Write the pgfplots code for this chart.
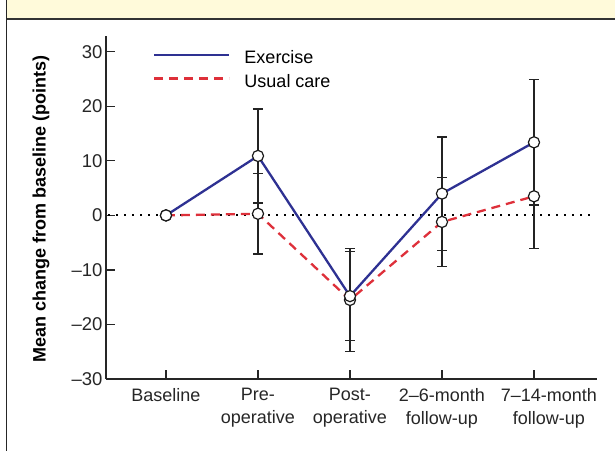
\documentclass[border=0pt]{standalone}
\usepackage{fontspec}
\setmainfont{Liberation Sans}
\usepackage{pgfplots}
\usepackage{pgfplotstable}
\pgfplotsset{compat=1.18}
\definecolor{exblue}{RGB}{46,49,146}
\definecolor{ucred}{RGB}{222,48,58}
\definecolor{hdr}{RGB}{255,250,218}
\definecolor{ebar}{RGB}{35,35,35}
\pgfplotstableread{
x y ep em
0 0 0 0
1 10.9 8.6 8.6
2 -14.8 8.2 8.2
3 4.0 10.4 10.4
4 13.4 11.5 11.5
}\exercise
\pgfplotstableread{
x y ep em
0 0 0 0
1 0.3 7.4 7.4
2 -15.5 9.4 9.4
3 -1.2 8.2 8.2
4 3.5 9.6 9.6
}\usual
\begin{document}
\begin{tikzpicture}
\path[use as bounding box] (0,0) rectangle (615bp,451bp);
\fill[hdr] (6bp,432bp) rectangle (615bp,451bp);
\draw[line width=2bp, black!80] (6bp,432bp) -- (615bp,432bp);
\draw[line width=1.5bp, black!85] (6.5bp,0) -- (6.5bp,451bp);
\begin{axis}[
  at={(106bp,72bp)}, anchor=south west,
  scale only axis, width=491bp, height=343bp,
  xmin=-0.652, xmax=4.685, ymin=-30, ymax=32.9,
  axis lines=left,
  axis line style={line width=1.3bp, black!85, -},
  tick align=inside, major tick length=9bp,
  tick style={line width=1.2bp, black!85},
  xtick={0,1,2,3},
  xticklabels={Baseline, Pre-\\operative, Post-\\operative, 2–6-month\\follow-up},
  extra x ticks={4},
  extra x tick labels={7–14-month\\follow-up},
  extra x tick style={xticklabel style={xshift=15bp}},
  xticklabel style={align=center, font=\fontsize{18bp}{22.5bp}\selectfont, text=black!85, yshift=-6bp},
  ytick={-30,-20,-10,0,10,20,30},
  yticklabels={–30,–20,–10,0,10,20,30},
  yticklabel style={font=\fontsize{18.5bp}{22bp}\selectfont, text=black!85},
  ylabel={Mean change from baseline (points)},
  ylabel style={font=\bfseries\fontsize{18bp}{22bp}\selectfont, at={(axis description cs:-0.1325,0.4956)}, anchor=center},
  clip=false,
  legend style={draw=none, fill=none, inner sep=0pt, at={(axis description cs:0.0957,0.96)}, anchor=north west,
    font=\fontsize{18bp}{22bp}\selectfont, row sep=7bp, nodes={inner sep=1bp},
    /tikz/every odd column/.append style={column sep=13bp}},
  legend cell align=left,
  legend image code/.code={\draw[#1] (0bp,0.33em) -- (75bp,0.33em);},
]
\addplot[forget plot, black, line width=2bp, dash pattern=on 2bp off 6bp] coordinates {(-0.63,0) (4.65,0)};
\addplot[exblue, line width=2.3bp, mark=none,
  error bars/.cd, y dir=both, y explicit,
  error bar style={ebar, line width=1.3bp, solid},
  error mark options={rotate=90, mark size=5bp, ebar, line width=1.3bp, solid}]
  table[x=x, y=y, y error plus=ep, y error minus=em] {\exercise};
\addlegendentry{Exercise}
\addplot[ucred, line width=2.3bp, dash pattern=on 9bp off 6bp, mark=none,
  error bars/.cd, y dir=both, y explicit,
  error bar style={ebar, line width=1.3bp, solid},
  error mark options={rotate=90, mark size=5bp, ebar, line width=1.3bp, solid}]
  table[x=x, y=y, y error plus=ep, y error minus=em] {\usual};
\addlegendentry{Usual care}
\addplot[forget plot, only marks, mark=*, mark size=5.6bp, mark options={fill=white, draw=black!90, line width=1.2bp}]
  table[x=x, y=y] {\usual};
\addplot[forget plot, only marks, mark=*, mark size=5.6bp, mark options={fill=white, draw=black!90, line width=1.2bp}]
  table[x=x, y=y] {\exercise};
\end{axis}
\end{tikzpicture}
\end{document}
